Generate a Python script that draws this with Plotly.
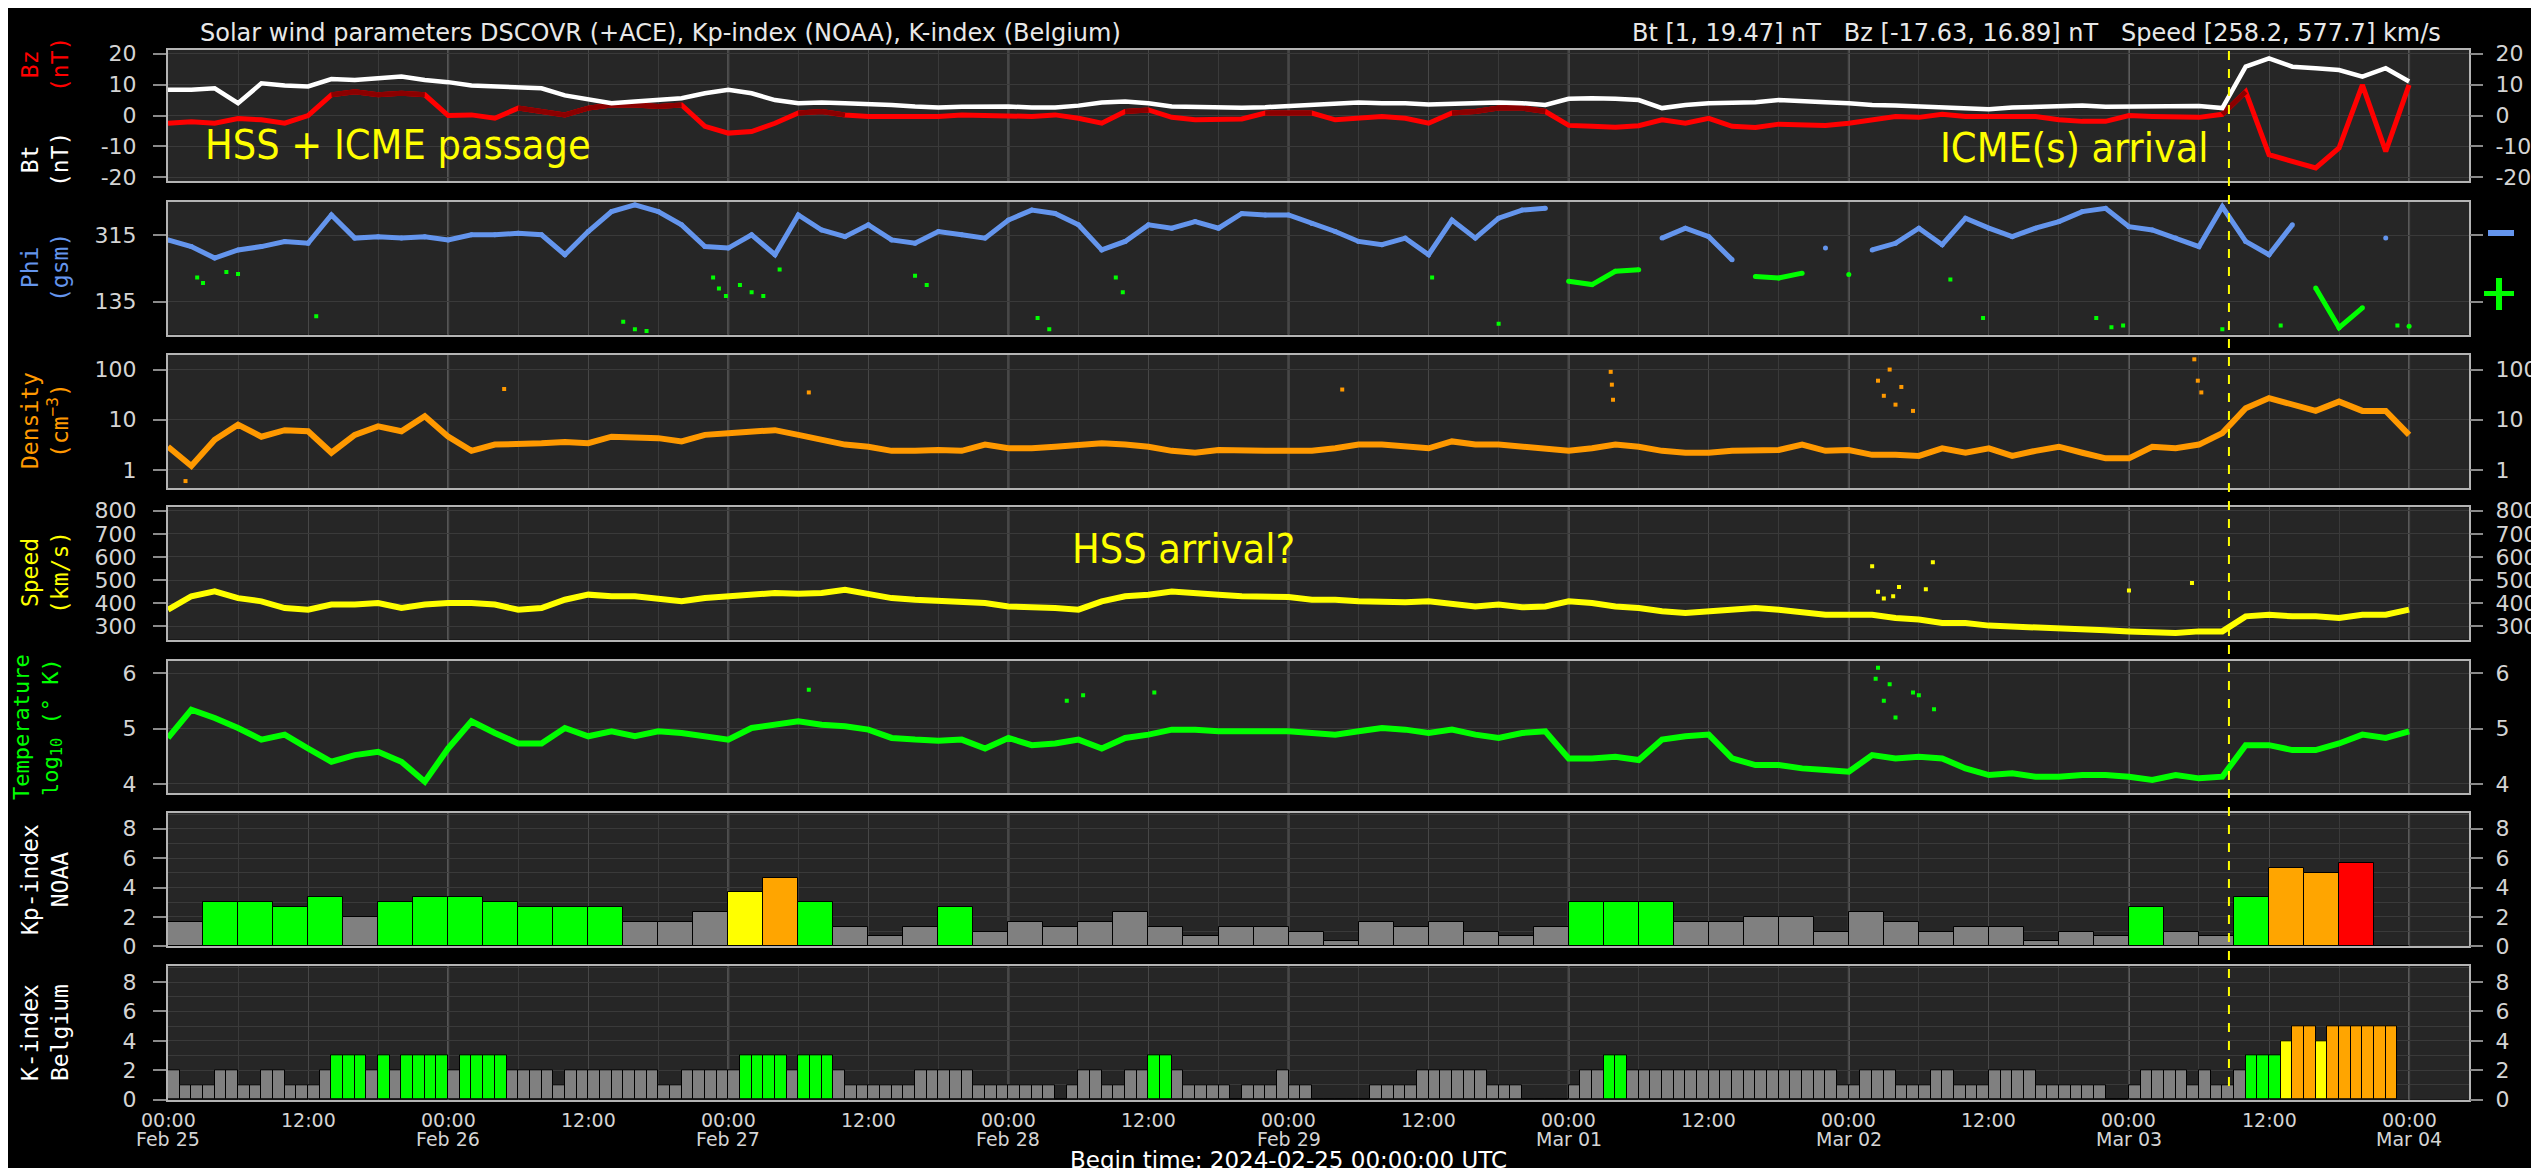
import pandas as pd
import plotly.graph_objects as go

# ---- data (2-hourly samples, Feb 25 00:00 -> Mar 04 00:00 UTC) ----
times = pd.date_range("2024-02-25 00:00", periods=97, freq="2h")

bt = [8.3, 8.3, 8.8, 4, 10.4, 9.7, 9.4, 11.8, 11.5, 12, 12.6, 11.5, 10.8, 9.7, 9.4, 9.1,
      8.8, 6.5, 5.4, 4, 4.5, 5, 5.6, 7.2, 8.3, 7.2, 5, 4, 4.2, 4, 3.8, 3.4,
      2.9, 2.6, 2.8, 2.9, 2.9, 2.6, 2.6, 3.2, 4.2, 4.5, 4, 2.9, 2.7, 2.6, 2.5, 2.7,
      3.1, 3.4, 3.8, 4.2, 4, 4, 3.6, 3.8, 4.2, 4.2, 4, 3.4, 5.4, 5.6, 5.4, 5,
      2.4, 3.4, 4, 4.3, 4.3, 5, 4.5, 4.3, 4, 3.4, 3.2, 2.9, 2.9, 2.6, 2, 2.6,
      2.9, 3.1, 3.2, 2.8, 2.8, 2.9, 3.1, 3.1, 2.4, 15.8, 18.5, 15.8, 15.3, 14.7, 12.6, 15.3,
      11]

bz = [-2.5, -2, -2.5, -1, -1.4, -2.5, 0, 6.7, 7.7, 6.7, 7.2, 6.7, 0, 0.2, -0.9, 2.4,
      1.3, 0.2, 2.4, 3.4, 3.4, 2.9, 3.4, -3.5, -5.7, -5.2, -2.5, 0.8, 1.3, 0.2, -0.3, -0.3,
      -0.3, -0.3, 0.2, 0, -0.3, -0.3, 0.2, -0.9, -2.5, 1.3, 1.8, -0.6, -1.4, -1.4, -1.1, 0.8,
      0.8, 0.8, -1.4, -0.9, -0.3, -0.9, -2.5, 0.8, 1.3, 2.4, 2.4, 1.3, -3.2, -3.5, -3.8, -3.3,
      -1.4, -2.5, -0.9, -3.5, -3.9, -2.8, -3, -3.2, -2.5, -1.4, -0.3, -0.6, 0.4, -0.3, -0.3, -0.3,
      -0.3, -1.4, -1.9, -1.9, 0, -0.3, -0.6, -0.6, 0.4, 7.7, -12.7, -14.8, -17, -10.5, 9.9, -11.6,
      9.9]

phi = [302, 284, 253, 275, 284, 298, 293, 370, 307, 311, 307, 311, 302, 316, 316, 320,
       316, 262, 325, 379, 397, 379, 343, 284, 280, 316, 262, 370, 329, 311, 343, 302,
       293, 325, 316, 307, 356, 383, 374, 343, 275, 298, 343, 334, 352, 334, 374, 370,
       370, 347, 325, 298, 289, 307, 262, 356, 307, 361, 383, 388, 190, 181, 217, 221,
       307, 334, 311, 248, 203, 199, 212, 280, 208, 275, 293, 334, 289, 361, 334, 311,
       334, 352, 379, 388, 338, 329, 307, 284, 392, 298, 262, 343, 172, 64, 118, 307,
       68]

# scattered phi points (hours since start, degrees)
phi_extra_h = [2.5, 3, 5, 6, 12.7, 39, 40, 41, 46.7, 47.2, 47.8, 49, 50, 51, 52.4, 64, 65,
               74.5, 75.5, 81.2, 81.8, 108.3, 114, 152.7, 155.5, 165.2, 166.5, 167.5, 176, 181, 191]
phi_extra_v = [200, 185, 215, 210, 95, 80, 60, 55, 200, 170, 150, 180, 160, 150, 222, 205, 180,
               90, 60, 200, 160, 200, 75, 195, 90, 90, 65, 70, 60, 70, 70]

density = [2.9, 1.2, 4, 8, 4.6, 6.2, 5.9, 2.2, 5, 7.4, 5.9, 11.8, 4.6, 2.4, 3.2, 3.2,
           3.4, 3.6, 3.4, 4.6, 4.6, 4.3, 3.7, 5, 5.4, 5.9, 6.2, 5, 4, 3.2, 2.9, 2.4,
           2.4, 2.5, 2.4, 3.2, 2.7, 2.7, 2.9, 3.2, 3.4, 3.2, 2.9, 2.4, 2.2, 2.5, 2.4, 2.4,
           2.4, 2.4, 2.7, 3.2, 3.2, 2.9, 2.7, 3.7, 3.2, 3.2, 2.9, 2.7, 2.4, 2.7, 3.2, 2.9,
           2.4, 2.2, 2.2, 2.4, 2.4, 2.5, 3.2, 2.4, 2.5, 2.0, 2.0, 1.9, 2.7, 2.2, 2.7, 1.9,
           2.4, 2.9, 2.2, 1.7, 1.7, 2.9, 2.7, 3.2, 5.4, 17, 27, 20, 15, 23, 15, 15,
           5]
dens_extra_h = [1.5, 28.8, 54.9, 100.6, 123.6, 123.7, 123.8, 146.5, 147, 147.5, 148, 148.5,
                149.5, 173.6, 173.9, 174.2]
dens_extra_v = [0.6, 41, 35, 40, 90, 50, 25, 60, 30, 100, 20, 45, 15, 160, 60, 35]

speed = [372, 430, 451, 422, 408, 379, 372, 394, 394, 401, 379, 394, 401, 401, 394, 372,
         379, 415, 437, 430, 430, 422, 408, 422, 430, 433, 444, 441, 444, 458, 437, 422,
         415, 412, 408, 401, 386, 384, 379, 372, 408, 430, 437, 451, 447, 437, 430, 427,
         427, 415, 415, 408, 404, 404, 408, 394, 386, 394, 382, 386, 408, 401, 386, 379,
         365, 358, 365, 372, 379, 372, 360, 350, 350, 350, 336, 329, 314, 314, 303, 300,
         293, 288, 286, 283, 278, 274, 271, 278, 278, 343, 350, 343, 343, 336, 350, 350,
         372]
speed_extra_h = [146, 146.5, 147, 147.8, 148.3, 150.6, 151.2, 168, 173.4]
speed_extra_v = [560, 450, 420, 430, 470, 460, 577, 455, 487]

temp = [4.83, 5.34, 5.19, 5.01, 4.8, 4.89, 4.64, 4.4, 4.52, 4.58, 4.4, 4.04, 4.64, 5.13, 4.92, 4.73,
        4.73, 5.01, 4.86, 4.95, 4.86, 4.95, 4.92, 4.86, 4.8, 5.01, 5.07, 5.13, 5.07, 5.04, 4.98, 4.83,
        4.8, 4.78, 4.8, 4.64, 4.83, 4.7, 4.73, 4.8, 4.64, 4.83, 4.89, 4.98, 4.98, 4.95, 4.95, 4.95,
        4.95, 4.92, 4.89, 4.95, 5.01, 4.98, 4.92, 4.98, 4.89, 4.83, 4.92, 4.95, 4.46, 4.46, 4.49, 4.43,
        4.8, 4.86, 4.89, 4.46, 4.34, 4.34, 4.28, 4.25, 4.22, 4.52, 4.46, 4.49, 4.46, 4.28, 4.16, 4.19,
        4.13, 4.13, 4.16, 4.16, 4.13, 4.07, 4.16, 4.1, 4.13, 4.7, 4.7, 4.61, 4.61, 4.73, 4.89, 4.83,
        4.95]
temp_extra_h = [54.9, 77, 78.4, 84.5, 146.3, 146.5, 147, 147.5, 148, 149.5, 150, 151.3]
temp_extra_v = [5.7, 5.5, 5.6, 5.65, 5.9, 6.1, 5.5, 5.8, 5.2, 5.65, 5.6, 5.35]

# Kp (NOAA), 3-hourly from Feb 25 00:00; last interval not yet available
kp = [1.67, 3, 3, 2.67, 3.33, 2, 3, 3.33,
      3.33, 3, 2.67, 2.67, 2.67, 1.67, 1.67, 2.33,
      3.67, 4.67, 3, 1.33, 0.67, 1.33, 2.67, 1,
      1.67, 1.33, 1.67, 2.33, 1.33, 0.67, 1.33, 1.33,
      1, 0.33, 1.67, 1.33, 1.67, 1, 0.67, 1.33,
      3, 3, 3, 1.67, 1.67, 2, 2, 1,
      2.33, 1.67, 1, 1.33, 1.33, 0.33, 1, 0.67,
      2.67, 1, 0.67, 3.33, 5.33, 5, 5.67, 0]

# K-index Belgium, hourly
k_feb25 = [2, 1, 1, 1, 2, 2, 1, 1, 2, 2, 1, 1, 1, 2, 3, 3, 3, 2, 3, 2, 3, 3, 3, 3]
k_feb26 = [2, 3, 3, 3, 3, 2, 2, 2, 2, 1, 2, 2, 2, 2, 2, 2, 2, 2, 1, 1, 2, 2, 2, 2]
k_feb27 = [2, 3, 3, 3, 3, 2, 3, 3, 3, 2, 1, 1, 1, 1, 1, 1, 2, 2, 2, 2, 2, 1, 1, 1]
k_feb28 = [1, 1, 1, 1, 0, 1, 2, 2, 1, 1, 2, 2, 3, 3, 2, 1, 1, 1, 1, 0, 1, 1, 1, 2]
k_feb29 = [1, 1, 0, 0, 0, 0, 0, 1, 1, 1, 1, 2, 2, 2, 2, 2, 2, 1, 1, 1, 0, 0, 0, 0]
k_mar01 = [1, 2, 2, 3, 3] + [2] * 18 + [1]
k_mar02 = [1, 2, 2, 2, 1, 1, 1, 2, 2, 1, 1, 1, 2, 2, 2, 2, 1, 1, 1, 1, 1, 1, 0, 0]
k_mar03 = [1, 2, 2, 2, 2, 1, 2, 1, 1, 2, 3, 3, 3, 4, 5, 5, 4, 5, 5, 5, 5, 5, 5]
k_be = k_feb25 + k_feb26 + k_feb27 + k_feb28 + k_feb29 + k_mar01 + k_mar02 + k_mar03

tick_times = pd.date_range("2024-02-25 00:00", "2024-03-04 00:00", freq="12h")
icme_time = "2024-03-03 08:34"

# ---- layout helpers ----
W, H = 2539, 1168
L, R = 160, 2461
panels = [(41.7, 173), (194, 326.7), (347, 480), (499.3, 631.7),
          (653, 785.3), (805, 938.3), (958.3, 1091.7)]
BG = "#262626"
GRID = "#3a3a3a"
FRAME = "#b4b4b4"
TICKC = "#d4d4d4"
TFONT = "DejaVu Sans"
CFONT = "DejaVu Sans Condensed, DejaVu Sans"
LFONT = "DejaVu Sans Mono"
start = pd.Timestamp("2024-02-25 00:00")
t0 = times[0]


def hrs(h):
    return [start + pd.Timedelta(hours=v) for v in h]


def ax(i, kind):
    return kind if i == 1 else f"{kind}{i}"


fig = go.Figure()


def line(y, color, i, width=6):
    fig.add_trace(go.Scatter(x=times, y=y, mode="lines", line=dict(color=color, width=width),
                             xaxis=ax(i, "x"), yaxis=ax(i, "y"), hoverinfo="skip",
                             showlegend=False, connectgaps=False))


def dots(x, y, color, i, size=4):
    fig.add_trace(go.Scatter(x=x, y=y, mode="markers", marker=dict(color=color, size=size, symbol="square"),
                             xaxis=ax(i, "x"), yaxis=ax(i, "y"), hoverinfo="skip", showlegend=False))


# panel 1: Bt / Bz
line(bz, "#ff0000", 1, width=5)
line([v if v > 0 else None for v in bz], "#8b0000", 1, width=5)
line(bt, "#ffffff", 1, width=4.5)

# panel 2: phi
blue, lime = "#6495ed", "#00ff00"
fig.add_trace(go.Scatter(x=times, y=[v if v >= 225 else None for v in phi], mode="lines+markers",
                         line=dict(color=blue, width=5), marker=dict(color=blue, size=5),
                         xaxis="x2", yaxis="y2", hoverinfo="skip", showlegend=False))
fig.add_trace(go.Scatter(x=times, y=[v if v < 225 else None for v in phi], mode="lines+markers",
                         line=dict(color=lime, width=5), marker=dict(color=lime, size=5),
                         xaxis="x2", yaxis="y2", hoverinfo="skip", showlegend=False))
dots(hrs(phi_extra_h), phi_extra_v, lime, 2)

# panels 3-5
line(density, "#ff9900", 3)
dots(hrs(dens_extra_h), dens_extra_v, "#ff9900", 3)
line(speed, "#ffff00", 4)
dots(hrs(speed_extra_h), speed_extra_v, "#ffff00", 4)
line(temp, lime, 5)
dots(hrs(temp_extra_h), temp_extra_v, lime, 5)


def kcolor(v, zero_black=False):
    if v == 0 and zero_black:
        return "#000000"
    r = round(v)
    if r >= 6:
        return "#ff0000"
    if r == 5:
        return "#ffa500"
    if r == 4:
        return "#ffff00"
    if r == 3:
        return "#00ff00"
    return "#808080"


kp_x = pd.date_range("2024-02-25 01:30", periods=len(kp), freq="3h")
fig.add_trace(go.Bar(x=kp_x, y=kp, width=3 * 3600 * 1000,
                     marker=dict(color=[kcolor(v, True) for v in kp], line=dict(color="#000000", width=1)),
                     xaxis="x6", yaxis="y6", hoverinfo="skip", showlegend=False))
k_x = pd.date_range("2024-02-25 00:30", periods=len(k_be), freq="h")
fig.add_trace(go.Bar(x=k_x, y=k_be, width=3600 * 1000,
                     marker=dict(color=[kcolor(v) for v in k_be], line=dict(color="#000000", width=1)),
                     xaxis="x7", yaxis="y7", hoverinfo="skip", showlegend=False))

kminor = dict(tickmode="linear", tick0=0, dtick=1, showgrid=True, gridcolor=GRID, ticks="")
yspec = [
    dict(range=[-21.2, 21.3], tickvals=[-20, -10, 0, 10, 20], ticktext=["-20", "-10", "0", "10", "20"]),
    dict(range=[45, 405], tickvals=[135, 315]),
    dict(type="log", range=[-0.36, 2.29], tickvals=[1, 10, 100], ticktext=["1", "10", "100"]),
    dict(range=[242, 815], tickvals=[300, 400, 500, 600, 700, 800]),
    dict(range=[3.83, 6.22], tickvals=[4, 5, 6]),
    dict(range=[0, 9.07], tickvals=[0, 2, 4, 6, 8], minor=kminor),
    dict(range=[0, 9.07], tickvals=[0, 2, 4, 6, 8], minor=kminor),
]

xrange_ = ["2024-02-25 00:00", "2024-03-04 05:08"]
layout = dict(
    template="none", width=W, height=H, paper_bgcolor="#000000", plot_bgcolor=BG,
    margin=dict(l=0, r=0, t=0, b=0, autoexpand=False), bargap=0, showlegend=False,
    font=dict(family=TFONT, color=TICKC, size=22),
)
for i, (top, bot) in enumerate(panels, start=1):
    dom = [1 - bot / H, 1 - top / H]
    layout[ax(i, "xaxis")] = dict(
        domain=[L / W, R / W], anchor=ax(i, "y"), range=xrange_, type="date", automargin=False,
        tickmode="array", tickvals=tick_times, showticklabels=False, ticks="",
        showgrid=True, gridcolor="#474747", gridwidth=1,
        minor=dict(tickmode="linear", tick0="2024-02-25", dtick=6 * 3600 * 1000,
                   showgrid=True, gridcolor=GRID, ticks=""),
        showline=True, mirror=True, linecolor=FRAME, linewidth=2, zeroline=False,
    )
    spec = yspec[i - 1]
    base = dict(ticks="outside", ticklen=13, tickcolor="#8a8a8a", tickwidth=2, automargin=False,
                tickfont=dict(family=TFONT, size=22, color=TICKC), zeroline=False)
    layout[ax(i, "yaxis")] = dict(domain=dom, anchor=ax(i, "x"), showgrid=True, gridcolor=GRID,
                                  showline=True, mirror=True, linecolor=FRAME, linewidth=2,
                                  ticklabelstandoff=12, **base, **spec)
    rspec = {k: v for k, v in spec.items() if k != "minor"}
    layout[f"yaxis{i + 7}"] = dict(overlaying=ax(i, "y"), side="right", anchor=ax(i, "x"),
                                   showgrid=False, showline=False, ticklabelstandoff=8,
                                   showticklabels=(i != 2), **base, **rspec)
    fig.add_trace(go.Scatter(x=[t0], y=[None], xaxis=ax(i, "x"), yaxis=f"y{i + 7}",
                             showlegend=False, hoverinfo="skip"))

fig.update_layout(**layout)

# day separators (brighter vertical lines)
shapes = []
for d in pd.date_range("2024-02-26", "2024-03-04", freq="D"):
    for i in range(1, 8):
        shapes.append(dict(type="line", xref=ax(i, "x"), yref=f"{ax(i, 'y')} domain",
                           x0=d, x1=d, y0=0, y1=1, line=dict(color="#5e5e5e", width=2), layer="below"))
# ICME arrival marker across all panels
shapes.append(dict(type="line", xref="x", yref="paper", x0=icme_time, x1=icme_time,
                   y0=1 - 1078 / H, y1=1 - 42 / H, line=dict(color="#ffff00", width=2, dash="dash")))
# phi sector symbols at right
shapes.append(dict(type="rect", xref="paper", yref="paper", x0=2480 / W, x1=2506 / W,
                   y0=1 - 228 / H, y1=1 - 222 / H, fillcolor=blue, line=dict(width=0)))
shapes.append(dict(type="rect", xref="paper", yref="paper", x0=2476 / W, x1=2506 / W,
                   y0=1 - 288 / H, y1=1 - 283 / H, fillcolor=lime, line=dict(width=0)))
shapes.append(dict(type="rect", xref="paper", yref="paper", x0=2488 / W, x1=2494 / W,
                   y0=1 - 302 / H, y1=1 - 270 / H, fillcolor=lime, line=dict(width=0)))
fig.update_layout(shapes=shapes)

ann = []


def label(text, ypx, color, xpx=37, size=23):
    ann.append(dict(text=text, x=xpx / W, y=1 - ypx / H, xref="paper", yref="paper",
                    xanchor="center", yanchor="middle", textangle=-90, showarrow=False,
                    font=dict(family=LFONT, size=size, color=color)))


label("Bz<br>(nT)", 57, "#ff0000")
label("Bt<br>(nT)", 152, "#ffffff")
label("Phi<br>(gsm)", 260, blue)
label("Density<br>(cm<sup>−3</sup>)", 413, "#ff9900")
label("Speed<br>(km/s)", 565, "#ffff00")
label("Temperature<br>log<sub>10</sub> (° K)", 719, lime, xpx=29, size=22)
label("Kp-index<br>NOAA", 872, "#ffffff")
label("K-index<br>Belgium", 1025, "#ffffff")

# time axis labels
for t in tick_times:
    ann.append(dict(text=t.strftime("%H:%M"), x=t, xref="x7", y=1 - 1112 / H, yref="paper",
                    xanchor="center", yanchor="middle", showarrow=False,
                    font=dict(family=TFONT, size=19, color=TICKC)))
    if t.hour == 0:
        ann.append(dict(text=t.strftime("%b %d"), x=t, xref="x7", y=1 - 1131 / H, yref="paper",
                        xanchor="center", yanchor="middle", showarrow=False,
                        font=dict(family=TFONT, size=19, color=TICKC)))

ann.append(dict(text="Solar wind parameters DSCOVR (+ACE), Kp-index (NOAA), K-index (Belgium)",
                x=190 / W, y=1 - 25 / H, xref="paper", yref="paper", xanchor="left", yanchor="middle",
                showarrow=False, font=dict(family=TFONT, size=24, color="#e8e8e8")))
ann.append(dict(text="Bt [1, 19.47] nT   Bz [-17.63, 16.89] nT   Speed [258.2, 577.7] km/s",
                x=2435 / W, y=1 - 25 / H, xref="paper", yref="paper", xanchor="right", yanchor="middle",
                showarrow=False, font=dict(family=TFONT, size=24, color="#e8e8e8")))
ann.append(dict(text="Begin time: 2024-02-25 00:00:00 UTC", x=1280 / W, y=1 - 1152 / H,
                xref="paper", yref="paper", xanchor="center", yanchor="middle", showarrow=False,
                font=dict(family=TFONT, size=23, color="#ffffff")))

for text, xpx, ypx, anchor in [("HSS + ICME passage", 195, 137, "left"),
                               ("ICME(s) arrival", 2203, 140, "right"),
                               ("HSS arrival?", 1062, 541, "left")]:
    ann.append(dict(text=text, x=xpx / W, y=1 - ypx / H, xref="paper", yref="paper",
                    xanchor=anchor, yanchor="middle", showarrow=False,
                    font=dict(family=CFONT, size=41, color="#ffff00")))

fig.update_layout(annotations=ann)
fig.write_html("out.html")
